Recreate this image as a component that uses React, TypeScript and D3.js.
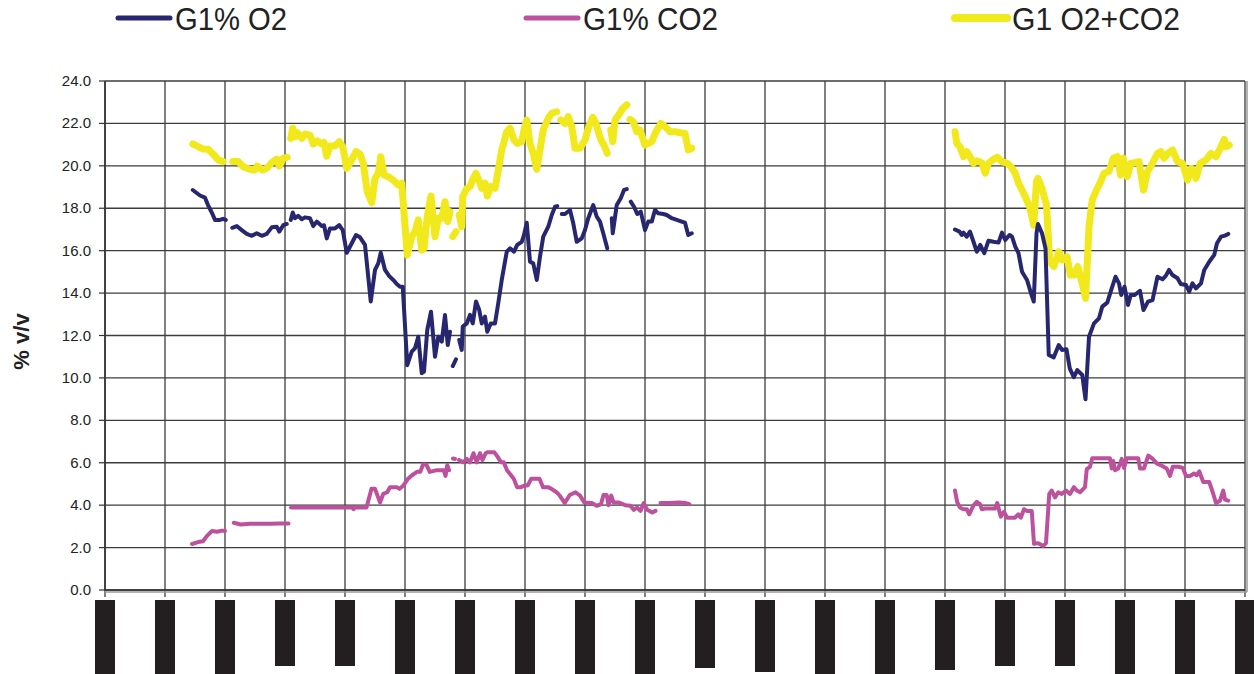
import React, { useEffect, useRef } from 'react';
import * as d3 from 'd3';

type Pt = [number, number | null];

// x = elapsed hours (each grid column = 24 h), null = gap in the record
const g1O2: Pt[] = [
  [35.1, 18.86], [38.0, 18.6], [40.0, 18.5], [41.2, 18.15], [42.7, 17.8], [44.0, 17.45], [46.0, 17.45], [47.2, 17.5], [48.3, 17.45],
  [49.5, null],
  [50.9, 17.08], [52.7, 17.16], [54.7, 16.97], [56.7, 16.79], [58.7, 16.7], [60.7, 16.82], [62.7, 16.7], [64.7, 16.79], [66.7, 17.1],
  [68.7, 17.13], [69.7, 16.9], [71.3, 17.2], [72.7, 17.26],
  [73.5, null],
  [74.3, 17.45], [75.1, 17.8], [76.0, 17.53], [77.3, 17.64], [78.7, 17.48], [80.0, 17.57], [82.0, 17.53], [83.3, 17.16], [84.7, 17.37],
  [86.7, 17.16], [87.6, 17.2], [88.7, 16.58], [90.0, 17.05], [92.0, 17.05], [93.7, 17.2], [95.1, 16.97], [96.7, 15.9], [98.7, 16.35],
  [100.4, 16.74], [102.0, 16.63], [104.0, 16.27], [106.3, 13.6], [108.0, 15.09], [109.3, 15.4], [110.3, 15.9], [112.0, 15.09],
  [113.7, 14.8], [115.3, 14.62], [116.7, 14.43], [118.0, 14.3], [119.1, 14.3], [120.9, 10.6], [122.7, 11.24], [124.0, 11.4],
  [125.3, 11.94], [126.7, 10.22], [127.6, 10.3], [128.9, 12.26], [130.4, 13.12], [132.0, 11.0], [133.3, 11.94], [134.7, 11.71],
  [136.0, 12.97], [137.1, 11.55], [138.0, 12.18],
  [138.6, null],
  [139.1, 10.56], [140.4, 10.88],
  [141.0, null],
  [141.7, 11.79], [142.7, 11.32], [143.1, 12.42], [144.7, 12.57], [146.0, 12.97], [147.1, 12.57], [148.4, 13.6], [149.7, 13.2],
  [150.7, 12.57], [152.0, 12.89], [152.9, 12.18], [154.3, 12.57], [156.0, 12.57], [157.3, 13.52], [158.7, 14.62], [160.7, 15.95],
  [162.0, 16.11], [163.6, 15.95], [164.9, 16.27], [166.7, 16.42], [167.6, 16.74], [168.7, 17.32], [170.0, 15.48], [171.3, 15.4],
  [172.7, 14.62], [174.0, 15.72], [175.3, 16.66], [177.3, 17.13], [178.7, 17.68], [180.0, 18.07], [180.9, 18.1],
  [181.8, null],
  [182.7, 17.73], [184.0, 17.73], [186.0, 17.92], [187.3, 17.29], [188.7, 16.42], [190.7, 16.58], [192.0, 16.97], [193.3, 17.53],
  [195.3, 18.15], [196.7, 17.6], [198.0, 17.37], [199.3, 16.82], [200.9, 16.11],
  [201.8, null],
  [202.7, 17.53], [203.1, 16.82], [204.7, 18.15], [206.3, 18.47], [207.6, 18.86], [208.7, 18.9],
  [209.5, null],
  [210.3, 18.31], [211.6, 18.07], [212.9, 17.73], [214.3, 17.84], [216.0, 16.97], [217.3, 17.37], [218.7, 17.37], [220.0, 17.92],
  [221.3, 17.76], [223.3, 17.73], [224.7, 17.68], [226.7, 17.53], [228.7, 17.45], [230.7, 17.37], [232.0, 17.32], [233.3, 16.74],
  [234.7, 16.82],
  [236.0, null],
  [340.0, 17.0], [341.8, 16.9], [342.7, 16.74], [343.4, 16.85], [344.7, 16.66], [346.0, 16.9], [347.4, 16.42], [348.7, 15.95],
  [350.1, 16.27], [351.7, 15.88], [353.4, 16.47], [355.4, 16.42], [357.4, 16.38], [358.8, 16.85], [360.1, 16.5], [361.8, 16.74],
  [362.8, 16.66], [364.1, 16.19], [365.4, 15.88], [366.8, 15.01], [368.8, 14.62], [370.4, 13.99], [371.5, 13.6], [372.6, 16.82],
  [373.2, 17.26], [374.8, 16.82], [376.2, 16.11], [377.5, 11.08], [379.5, 10.97], [381.5, 11.55], [382.8, 11.32], [384.6, 11.35],
  [385.9, 10.45], [387.5, 10.03], [388.9, 10.37], [390.9, 10.14], [392.2, 8.99], [393.6, 11.94], [395.6, 12.57], [397.6, 12.81],
  [398.9, 13.36], [400.9, 13.55], [402.5, 14.15], [404.2, 14.77], [405.6, 14.46], [406.5, 13.91], [407.8, 14.3], [409.2, 13.44],
  [410.3, 13.91], [411.9, 13.91], [414.0, 14.11], [415.4, 13.2], [417.2, 13.6], [419.0, 13.67], [421.0, 14.77], [423.0, 14.65],
  [424.3, 14.81], [425.6, 15.09], [427.0, 14.85], [429.0, 14.7], [430.3, 14.43], [432.4, 14.38], [433.7, 14.07], [435.0, 14.46],
  [436.4, 14.22], [438.4, 14.46], [439.7, 15.09], [441.7, 15.48], [443.7, 15.8], [444.8, 16.35], [446.4, 16.66], [448.0, 16.71],
  [449.3, 16.79],
];

const g1CO2: Pt[] = [
  [34.8, 2.17], [37.2, 2.26], [39.2, 2.3], [40.8, 2.55], [42.8, 2.78], [44.8, 2.75], [46.8, 2.8], [48.0, 2.78],
  [49.5, null],
  [51.5, 3.17], [54.2, 3.09], [58.0, 3.12], [62.0, 3.12], [66.0, 3.12], [70.0, 3.14], [73.4, 3.14],
  [73.9, null],
  [74.4, 3.89], [82.0, 3.89], [90.0, 3.89], [98.8, 3.89], [99.4, 3.81], [100.0, 3.89], [104.6, 3.89], [106.6, 4.77], [108.0, 4.77],
  [110.0, 4.13], [111.3, 4.53], [112.9, 4.61], [114.0, 4.85], [116.7, 4.85], [117.8, 4.77], [119.4, 4.93], [121.0, 5.22],
  [122.8, 5.41], [124.8, 5.57], [126.1, 5.57], [127.2, 5.92], [128.5, 5.92], [129.9, 5.57], [132.8, 5.65], [135.5, 5.65],
  [136.2, 5.38], [136.9, 5.89], [137.6, 5.65],
  [138.5, null],
  [139.2, 6.2], [140.0, 6.18],
  [140.8, null],
  [141.6, 6.13], [143.3, 6.02], [144.7, 6.18], [146.0, 6.02], [147.4, 6.45], [148.7, 6.02], [150.0, 6.45], [151.0, 6.13],
  [152.3, 6.45], [153.0, 6.5], [155.7, 6.5], [157.0, 6.29], [158.4, 6.02], [159.5, 6.02], [160.8, 5.65], [162.4, 5.41],
  [163.5, 5.25], [164.8, 4.85], [166.4, 4.85], [167.8, 4.93], [169.1, 4.93], [170.5, 5.25], [173.8, 5.25], [175.2, 4.85],
  [177.2, 4.85], [178.6, 4.77], [180.6, 4.61], [181.9, 4.45], [183.9, 4.1], [185.9, 4.48], [188.2, 4.61], [190.0, 4.45],
  [191.7, 4.13], [194.7, 4.1], [196.7, 3.97], [198.4, 4.05], [199.4, 4.48], [200.7, 4.48], [201.4, 4.0], [202.5, 4.45],
  [203.4, 4.13], [205.4, 4.13], [208.1, 4.0], [210.2, 3.97], [211.5, 3.78], [212.8, 3.89], [214.2, 3.73], [215.5, 4.1],
  [216.9, 3.78], [218.9, 3.65], [220.2, 3.73],
  [221.2, null],
  [222.2, 4.1], [225.6, 4.1], [229.6, 4.13], [232.3, 4.1], [233.7, 4.05],
  [236.0, null],
  [340.0, 4.69], [340.9, 4.13], [342.0, 3.89], [343.3, 3.81], [344.7, 3.81], [345.7, 3.57], [347.3, 3.97], [348.7, 4.16],
  [350.0, 4.05], [350.7, 3.81], [352.0, 3.84], [356.0, 3.84], [356.9, 4.1], [358.3, 3.46], [359.6, 3.68], [360.9, 3.41],
  [364.0, 3.41], [365.3, 3.57], [366.3, 3.41], [367.6, 3.81], [368.7, 3.73], [370.7, 3.73], [371.6, 2.18], [373.3, 2.21],
  [375.3, 2.08], [376.4, 2.21], [377.7, 4.53], [378.7, 4.69], [380.0, 4.37], [381.3, 4.61], [382.7, 4.53], [384.4, 4.69],
  [386.0, 4.53], [387.6, 4.85], [388.7, 4.69], [390.0, 4.61], [392.0, 4.85], [392.7, 5.7], [394.0, 5.81], [394.9, 6.21],
  [398.0, 6.21], [402.0, 6.21], [402.7, 5.73], [403.3, 6.08], [404.0, 5.65], [405.3, 5.73], [406.7, 6.18], [407.6, 5.76],
  [408.7, 6.21], [413.3, 6.21], [414.0, 5.73], [415.6, 5.73], [417.3, 6.34], [419.1, 6.18], [420.7, 5.97], [422.7, 5.86],
  [424.7, 5.73], [426.0, 5.38], [427.1, 5.81], [429.3, 5.81], [431.1, 5.76], [432.4, 5.38], [434.0, 5.38], [435.6, 5.49],
  [436.7, 5.41], [437.7, 5.6], [439.3, 5.09], [441.7, 5.09], [443.1, 4.61], [444.4, 4.1], [446.0, 4.21], [447.3, 4.69],
  [448.0, 4.26], [449.3, 4.21],
];

const g1Sum: Pt[] = [
  [35.1, 21.03], [37.3, 20.9], [39.3, 20.79], [41.3, 20.78], [43.3, 20.55], [45.3, 20.28], [47.3, 20.2],
  [49.2, null],
  [51.1, 20.2], [53.3, 20.2], [55.3, 19.96], [58.0, 19.84], [60.0, 19.8], [60.9, 19.99], [63.1, 19.8], [64.9, 19.91],
  [66.7, 20.15], [68.7, 20.31], [69.7, 19.99], [71.3, 20.36], [72.9, 20.4],
  [73.6, null],
  [74.3, 21.3], [75.1, 21.77], [76.0, 21.37], [76.9, 21.56], [78.7, 21.3], [80.0, 21.5], [82.0, 21.45], [83.3, 21.03],
  [84.9, 21.18], [86.7, 21.03], [87.6, 21.1], [88.7, 20.46], [90.0, 20.94], [92.0, 20.94], [93.7, 21.14], [95.1, 20.9],
  [96.7, 19.88], [98.7, 20.28], [100.4, 20.67], [102.0, 20.56], [103.3, 20.12], [104.9, 18.78], [106.7, 18.26], [108.0, 19.41],
  [109.3, 19.65], [110.3, 20.43], [111.6, 19.57], [113.3, 19.49], [115.3, 19.33], [117.3, 19.1], [118.7, 19.18], [120.9, 15.8],
  [122.7, 16.66], [124.0, 16.9], [125.3, 17.45], [126.7, 16.03], [127.6, 16.11], [128.9, 17.6], [130.4, 18.58], [132.0, 16.66],
  [133.3, 17.53], [134.7, 17.53], [136.0, 18.31], [137.1, 17.37], [138.0, 17.84],
  [138.6, null],
  [139.1, 16.66], [140.4, 16.9],
  [141.0, null],
  [141.7, 17.68], [142.7, 17.13], [143.1, 18.55], [144.7, 18.94], [146.0, 19.02], [147.3, 19.41], [148.4, 19.65], [149.7, 19.26],
  [150.7, 18.94], [152.0, 19.18], [152.9, 18.58], [154.3, 19.02], [156.0, 18.94], [157.3, 19.8], [158.7, 20.75], [160.7, 21.61],
  [162.0, 21.77], [163.6, 21.22], [164.9, 21.06], [166.7, 21.14], [167.6, 21.69], [168.7, 22.16], [170.0, 21.06], [171.3, 20.59],
  [172.7, 19.84], [174.0, 20.75], [175.3, 21.69], [177.3, 22.24], [178.7, 22.48], [180.7, 22.55],
  [181.5, null],
  [182.3, 22.16], [184.0, 22.0], [185.3, 22.32], [186.7, 21.85], [188.0, 20.83], [190.0, 20.83], [192.0, 21.22], [193.3, 21.77],
  [195.1, 22.29], [196.4, 22.0], [197.7, 21.45], [198.7, 21.14], [199.6, 20.98], [200.9, 20.59],
  [201.6, null],
  [202.3, 21.69], [203.1, 21.14], [204.0, 22.16], [205.7, 22.44], [207.1, 22.71], [208.7, 22.87],
  [209.3, null],
  [210.0, 22.19], [211.3, 22.08], [212.7, 21.61], [214.0, 21.69], [216.0, 20.98], [217.3, 21.06], [218.7, 21.14], [220.4, 21.61],
  [222.3, 22.0], [224.0, 21.85], [226.0, 21.61], [228.0, 21.61], [230.0, 21.56], [232.0, 21.53], [233.3, 20.75], [234.7, 20.83],
  [236.0, null],
  [340.0, 21.61], [340.7, 21.06], [342.0, 20.9], [343.4, 20.43], [344.7, 20.67], [346.0, 20.43], [347.4, 20.12], [348.7, 20.24],
  [350.7, 20.15], [352.1, 19.65], [353.4, 20.12], [355.4, 20.31], [357.0, 20.4], [358.8, 20.2], [360.8, 20.12], [362.4, 19.96],
  [364.1, 19.65], [365.4, 19.18], [366.8, 18.86], [368.1, 18.55], [369.9, 18.05], [371.5, 17.2], [372.6, 19.26], [373.2, 19.41],
  [374.8, 18.94], [376.6, 18.15], [377.9, 15.48], [379.5, 15.25], [381.5, 15.95], [382.8, 15.56], [384.8, 15.72], [386.2, 14.85],
  [387.8, 14.85], [389.1, 15.25], [390.9, 14.46], [392.2, 13.75], [393.6, 17.13], [394.9, 18.39], [396.6, 18.86], [398.0, 19.18],
  [399.6, 19.65], [401.6, 19.73], [403.3, 20.36], [404.9, 20.43], [406.2, 19.57], [407.3, 20.36], [408.9, 19.49], [410.3, 20.12],
  [411.9, 20.15], [413.6, 20.2], [415.4, 18.86], [417.0, 19.73], [419.0, 20.12], [421.0, 20.59], [422.3, 20.67], [423.6, 20.36],
  [425.2, 20.59], [427.0, 20.75], [429.0, 20.2], [431.0, 20.12], [433.0, 19.33], [434.6, 19.88], [436.4, 19.41], [438.1, 20.12],
  [440.4, 20.28], [442.4, 20.59], [444.4, 20.43], [446.1, 20.83], [447.7, 21.25], [448.4, 20.9], [449.7, 20.98],
];

const yTicks = [0, 2, 4, 6, 8, 10, 12, 14, 16, 18, 20, 22, 24];
const dayTicks = d3.range(0, 20).map(d => d * 24);
// redacted date labels under each tick: where each black block ends
const labelEnds = [674, 674, 674, 666, 666, 674, 674, 674, 674, 674, 668, 672, 674, 674, 670, 666, 666, 674, 674, 674];

const series = [
  { name: 'G1% O2', data: g1O2, color: '#27276f', width: 4, legendX: 118, textW: 112 },
  { name: 'G1% CO2', data: g1CO2, color: '#bd519d', width: 4, legendX: 526, textW: 135 },
  { name: 'G1 O2+CO2', data: g1Sum, color: '#f1e91b', width: 7, legendX: 955, textW: 168 },
];

export default function App() {
  const svgRef = useRef<SVGSVGElement>(null);

  useEffect(() => {
    if (!svgRef.current) return;
    const width = 1254;
    const height = 674;
    const svg = d3.select(svgRef.current);
    svg.selectAll('*').remove();
    svg.attr('width', width).attr('height', height);

    const x = d3.scaleLinear().domain([0, 456]).range([105, 1245]);
    const y = d3.scaleLinear().domain([0, 24]).range([590, 81]);
    const font = 'Arial, "Liberation Sans", sans-serif';

    // gridlines
    svg.append('g')
      .selectAll('line')
      .data(yTicks)
      .enter()
      .append('line')
      .attr('x1', x(0)).attr('x2', x(456))
      .attr('y1', d => y(d)).attr('y2', d => y(d))
      .attr('stroke', '#3c3c3c')
      .attr('stroke-width', 1.3);

    svg.append('g')
      .selectAll('line')
      .data(dayTicks)
      .enter()
      .append('line')
      .attr('x1', d => x(d)).attr('x2', d => x(d))
      .attr('y1', y(24)).attr('y2', y(0) + 7)
      .attr('stroke', '#3c3c3c')
      .attr('stroke-width', 1.3);

    // right border and bottom axis with a light shadow
    svg.append('line')
      .attr('x1', x(456) + 2).attr('x2', x(456) + 2)
      .attr('y1', y(24)).attr('y2', y(0) + 2)
      .attr('stroke', '#9a9a9a').attr('stroke-width', 1.5);
    svg.append('line')
      .attr('x1', x(0)).attr('x2', x(456) + 2)
      .attr('y1', y(0) + 2).attr('y2', y(0) + 2)
      .attr('stroke', '#9a9a9a').attr('stroke-width', 1.5);
    svg.append('line')
      .attr('x1', x(0)).attr('x2', x(456))
      .attr('y1', y(0)).attr('y2', y(0))
      .attr('stroke', '#333').attr('stroke-width', 1.6);
    svg.append('line')
      .attr('x1', x(0)).attr('x2', x(0))
      .attr('y1', y(24)).attr('y2', y(0))
      .attr('stroke', '#333').attr('stroke-width', 1.6);

    // y axis ticks + labels
    const yAxis = svg.append('g');
    yAxis.selectAll('line')
      .data(yTicks)
      .enter()
      .append('line')
      .attr('x1', x(0) - 6).attr('x2', x(0))
      .attr('y1', d => y(d)).attr('y2', d => y(d))
      .attr('stroke', '#333').attr('stroke-width', 1.2);
    yAxis.selectAll('text')
      .data(yTicks)
      .enter()
      .append('text')
      .attr('x', 91)
      .attr('y', d => y(d) + 5)
      .attr('text-anchor', 'end')
      .attr('fill', '#222')
      .style('font-family', font)
      .style('font-size', '15px')
      .text(d => d.toFixed(1));

    svg.append('text')
      .attr('transform', `translate(29,${(y(0) + y(24)) / 2 + 6}) rotate(-90)`)
      .attr('text-anchor', 'middle')
      .attr('fill', '#222')
      .style('font-family', font)
      .style('font-size', '22px')
      .style('font-weight', 'bold')
      .text('% v/v');

    // redacted date labels
    svg.append('g')
      .selectAll('rect')
      .data(dayTicks)
      .enter()
      .append('rect')
      .attr('x', d => x(d) - 10)
      .attr('y', 600)
      .attr('width', 20)
      .attr('height', (_, i) => labelEnds[i] - 600)
      .attr('fill', '#231f20');

    // series
    const line = d3.line<Pt>()
      .defined(d => d[1] !== null)
      .x(d => x(d[0]))
      .y(d => y(d[1] as number));

    const order = [series[2], series[0], series[1]];
    order.forEach(s => {
      svg.append('path')
        .datum(s.data)
        .attr('fill', 'none')
        .attr('stroke', s.color)
        .attr('stroke-width', s.width)
        .attr('stroke-linejoin', 'round')
        .attr('stroke-linecap', 'round')
        .attr('d', line);
    });

    // legend
    const legend = svg.append('g');
    series.forEach(s => {
      legend.append('line')
        .attr('x1', s.legendX).attr('x2', s.legendX + 52)
        .attr('y1', 18).attr('y2', 18)
        .attr('stroke', s.color)
        .attr('stroke-width', s.width + 1)
        .attr('stroke-linecap', 'round');
      legend.append('text')
        .attr('x', s.legendX + 57)
        .attr('y', 30)
        .attr('fill', '#222')
        .attr('textLength', s.textW)
        .attr('lengthAdjust', 'spacingAndGlyphs')
        .style('font-family', font)
        .style('font-size', '31px')
        .text(s.name);
    });
  }, []);

  return (
    <div style={{ position: 'fixed', left: 0, top: 0, width: 1254, height: 674, background: '#fff' }}>
      <svg ref={svgRef} style={{ display: 'block' }} />
    </div>
  );
}
